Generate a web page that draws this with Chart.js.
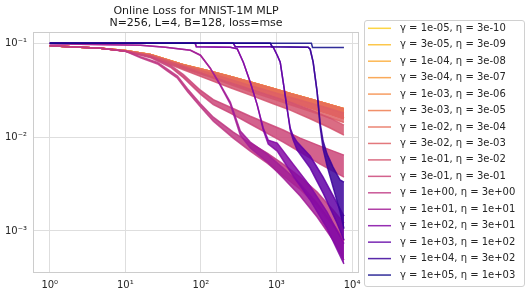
<!DOCTYPE html>
<html><head><meta charset="utf-8">
<script src="https://cdn.jsdelivr.net/npm/chart.js@4"></script>
<style>html,body{margin:0;padding:0;background:#fff;}#wrap{width:531px;height:297px;}</style>
</head><body><div id="wrap"><canvas id="c" width="531" height="297"></canvas></div>
<script>
// ---------- data ----------
const titleLines = ['Online Loss for MNIST-1M MLP', 'N=256, L=4, B=128, loss=mse'];
const gammaValues = [1e-5, 3e-5, 1e-4, 3e-4, 1e-3, 3e-3, 1e-2, 3e-2, 1e-1, 3e-1, 1, 10, 100, 1000, 1e4, 1e5];
const gammaLabels = ['1e-05','3e-05','1e-04','3e-04','1e-03','3e-03','1e-02','3e-02','1e-01','3e-01','1e+00','1e+01','1e+02','1e+03','1e+04','1e+05'];
const etaLabels = ['3e-10','3e-09','3e-08','3e-07','3e-06','3e-05','3e-04','3e-03','3e-02','3e-01','3e+00','1e+01','3e+01','1e+02','3e+02','1e+03'];

const xTickValues = [1, 10, 100, 1000, 10000];
const xTickLabels = ['10⁰', '10¹', '10²', '10³', '10⁴'];
const yTickValues = [1e-3, 1e-2, 1e-1];
const yTickLabels = ['10⁻³', '10⁻²', '10⁻¹'];

// lazy regime (gamma <= 1e-02 overlap): upper / lower edge of the noisy band
const stepsLazy = [1, 2.57, 4.71, 10, 21.5, 58.7, 133, 245, 450, 906, 1520, 2790, 5125, 7812];
const lossLazyHi = [0.0941, 0.0907, 0.0885, 0.0838, 0.0760, 0.0590, 0.0504, 0.0443, 0.0387, 0.0330, 0.0292, 0.0255, 0.0221, 0.0200];
const lossLazyLo = [0.0941, 0.0907, 0.0885, 0.0826, 0.0731, 0.0549, 0.0457, 0.0392, 0.0334, 0.0278, 0.0243, 0.0207, 0.0177, 0.0158];

const steps3em2 = [1, 2.57, 4.71, 10, 21.5, 58.7, 133, 245, 450, 906, 1520, 2790, 5125, 7812];
const loss3em2Hi = [0.0941, 0.0907, 0.0885, 0.0838, 0.0751, 0.0576, 0.0480, 0.0412, 0.0355, 0.0301, 0.0266, 0.0231, 0.0200, 0.0181];
const loss3em2Lo = [0.0941, 0.0907, 0.0885, 0.0826, 0.0722, 0.0536, 0.0435, 0.0364, 0.0306, 0.0254, 0.0221, 0.0188, 0.0160, 0.0143];

const steps1em1 = [1, 4.71, 10, 21.5, 58.7, 133, 245, 450, 906, 1520, 2790, 5125, 7812];
const loss1em1Hi = [0.0941, 0.0885, 0.0828, 0.0736, 0.0562, 0.0446, 0.0380, 0.0324, 0.0270, 0.0236, 0.0196, 0.0159, 0.0134];
const loss1em1Lo = [0.0941, 0.0885, 0.0828, 0.0718, 0.0522, 0.0404, 0.0336, 0.0280, 0.0227, 0.0194, 0.0157, 0.0125, 0.0105];

const steps3em1 = [1, 4.71, 10, 21.5, 39.6, 58.7, 98.5, 146, 245, 450, 1228, 2060, 3784, 7812];
const loss3em1Hi = [0.0941, 0.0885, 0.0822, 0.0718, 0.0583, 0.0462, 0.0316, 0.0251, 0.0208, 0.0167, 0.0119, 0.00976, 0.00802, 0.00643];
const loss3em1Lo = [0.0941, 0.0885, 0.0822, 0.0701, 0.0555, 0.0430, 0.0287, 0.0222, 0.0180, 0.0138, 0.00885, 0.00692, 0.00516, 0.00375];

const steps1e0 = [1, 4.71, 10.1, 15.9, 26.7, 36.1, 49, 66.3, 98.5, 146, 268, 450, 755, 1228, 2060, 3454, 5610, 7812];
const loss1e0Hi = [0.0941, 0.0885, 0.0822, 0.0718, 0.0625, 0.0529, 0.0446, 0.0328, 0.0227, 0.0163, 0.0113, 0.00863, 0.00676, 0.00516, 0.00375, 0.00260, 0.00167, 0.00121];
const loss1e0Lo = [0.0941, 0.0885, 0.0822, 0.0701, 0.0601, 0.0504, 0.0424, 0.0305, 0.0211, 0.0148, 0.00976, 0.00710, 0.00529, 0.00385, 0.00279, 0.00185, 0.00113, 0.000783];

const steps1e1 = [1, 15.9, 34, 72.7, 98.5, 133, 181, 245, 332, 450, 755, 1228, 2060, 3454, 5610, 7812];
const loss1e1Hi = [0.0988, 0.0952, 0.0907, 0.0842, 0.0745, 0.0542, 0.0362, 0.0236, 0.0116, 0.00885, 0.00659, 0.00468, 0.00316, 0.00198, 0.00119, 0.000802];
const loss1e1Lo = [0.0988, 0.0952, 0.0907, 0.0842, 0.0745, 0.0542, 0.0353, 0.0224, 0.0105, 0.00764, 0.00542, 0.00366, 0.00236, 0.00141, 0.000802, 0.000491];

const steps1e2 = [1, 84, 87, 245, 303, 364, 450, 557, 668, 778, 1023, 1664, 2790, 4679, 7812];
const loss1e2Hi = [0.1, 0.1, 0.0918, 0.0907, 0.0870, 0.0628, 0.0385, 0.0219, 0.0125, 0.00929, 0.00863, 0.00516, 0.00301, 0.00159, 0.000735];
const loss1e2Lo = [0.1, 0.1, 0.0918, 0.0907, 0.0870, 0.0628, 0.0385, 0.0219, 0.0119, 0.00842, 0.00710, 0.00385, 0.00214, 0.00106, 0.000446];

const steps1e3 = [1, 268, 285, 826, 906, 1023, 1121, 1228, 1387, 1520, 1664, 1879, 2790, 4142, 6339, 7812];
const loss1e3Hi = [0.1, 0.1, 0.0918, 0.0918, 0.0907, 0.0745, 0.0628, 0.0385, 0.0198, 0.0125, 0.0103, 0.00885, 0.00628, 0.00375, 0.00198, 0.00144];
const loss1e3Lo = [0.1, 0.1, 0.0918, 0.0918, 0.0907, 0.0745, 0.0628, 0.0385, 0.0198, 0.0119, 0.00929, 0.00727, 0.00468, 0.00253, 0.00121, 0.000802];

const steps1e4 = [1, 826, 879, 2626, 2790, 3057, 3454, 3784, 4142, 4679, 5610, 6950, 7812];
const loss1e4Hi = [0.1, 0.1, 0.0918, 0.0907, 0.0863, 0.0628, 0.0301, 0.0141, 0.00907, 0.00659, 0.00479, 0.00349, 0.00332];
const loss1e4Lo = [0.1, 0.1, 0.0918, 0.0907, 0.0863, 0.0628, 0.0301, 0.0128, 0.00745, 0.00491, 0.00293, 0.00159, 0.00106];

const steps1e5 = [1, 2900, 3000, 7812];
const loss1e5 = [0.1, 0.1, 0.0900, 0.0900];

const seriesSteps = [stepsLazy, stepsLazy, stepsLazy, stepsLazy, stepsLazy, stepsLazy, stepsLazy, steps3em2, steps1em1, steps3em1, steps1e0, steps1e1, steps1e2, steps1e3, steps1e4, steps1e5];
const seriesHi = [lossLazyHi, lossLazyHi, lossLazyHi, lossLazyHi, lossLazyHi, lossLazyHi, lossLazyHi, loss3em2Hi, loss1em1Hi, loss3em1Hi, loss1e0Hi, loss1e1Hi, loss1e2Hi, loss1e3Hi, loss1e4Hi, loss1e5];
const seriesLo = [lossLazyLo, lossLazyLo, lossLazyLo, lossLazyLo, lossLazyLo, lossLazyLo, lossLazyLo, loss3em2Lo, loss1em1Lo, loss3em1Lo, loss1e0Lo, loss1e1Lo, loss1e2Lo, loss1e3Lo, loss1e4Lo, null];

// ---------- colours ----------
const plasmaStops = ['#0d0887','#41049d','#6a00a8','#8f0da4','#b12a90','#cc4778','#e16462','#f2844b','#fca636','#fcce25','#f0f921'];
function hex(h){return [parseInt(h.slice(1,3),16),parseInt(h.slice(3,5),16),parseInt(h.slice(5,7),16)];}
function plasma(t){const s=Math.max(0,Math.min(1,t))*10;const i=Math.min(9,Math.floor(s));const f=s-i;const a=hex(plasmaStops[i]),b=hex(plasmaStops[i+1]);return a.map((v,k)=>Math.round(v+(b[k]-v)*f));}
function rgba(c,a){return 'rgba('+c[0]+','+c[1]+','+c[2]+','+a+')';}

const seriesColors = gammaValues.map(g => rgba(plasma(0.9*(1-(Math.log10(g)+5)/10)), 0.85));
const legendLabels = gammaLabels.map((g,i) => 'γ = ' + g + ', η = ' + etaLabels[i]);

const datasets = [];
for (let i = 0; i < gammaValues.length; i++) {
  const steps = seriesSteps[i], hi = seriesHi[i], lo = seriesLo[i];
  const order = 100 - i * 2;
  const base = {borderColor: seriesColors[i], backgroundColor: seriesColors[i], borderWidth: 1.5, pointRadius: 0, tension: 0, order: order};
  datasets.push(Object.assign({}, base, {label: legendLabels[i], data: steps.map((s,k)=>({x:s, y:hi[k]})), fill: false}));
  if (lo) datasets.push(Object.assign({}, base, {label: legendLabels[i] + ' ', data: steps.map((s,k)=>({x:s, y:lo[k]})), fill: '-1'}));
}

const FONT = 'DejaVu Sans';
const framePlugin = {
  id: 'frameAndLegend',
  afterDraw(chart) {
    const ctx = chart.ctx, a = chart.chartArea;
    ctx.save();
    ctx.strokeStyle = '#cccccc'; ctx.lineWidth = 1;
    ctx.strokeRect(Math.round(a.left) + 0.5, Math.round(a.top) + 0.5, Math.round(a.right - a.left) - 1, Math.round(a.bottom - a.top) - 1);
    // legend
    const lx = 364.5, ly = 20.5, lw = 160, lh = 266, r = 2.5;
    ctx.beginPath();
    ctx.moveTo(lx + r, ly); ctx.lineTo(lx + lw - r, ly); ctx.quadraticCurveTo(lx + lw, ly, lx + lw, ly + r);
    ctx.lineTo(lx + lw, ly + lh - r); ctx.quadraticCurveTo(lx + lw, ly + lh, lx + lw - r, ly + lh);
    ctx.lineTo(lx + r, ly + lh); ctx.quadraticCurveTo(lx, ly + lh, lx, ly + lh - r);
    ctx.lineTo(lx, ly + r); ctx.quadraticCurveTo(lx, ly, lx + r, ly); ctx.closePath();
    ctx.fillStyle = 'rgba(255,255,255,0.8)'; ctx.fill();
    ctx.strokeStyle = '#d0d0d0'; ctx.stroke();
    ctx.font = '10px "' + FONT + '"'; ctx.textBaseline = 'middle'; ctx.textAlign = 'left';
    for (let i = 0; i < legendLabels.length; i++) {
      const cy = 28.3 + i * 16.45;
      ctx.strokeStyle = seriesColors[i]; ctx.lineWidth = 1.5;
      ctx.beginPath(); ctx.moveTo(368, cy); ctx.lineTo(391, cy); ctx.stroke();
      ctx.fillStyle = '#262626';
      ctx.fillText(legendLabels[i], 400, cy);
    }
    ctx.restore();
  }
};

new Chart(document.getElementById('c'), {
  type: 'line',
  data: {datasets: datasets},
  options: {
    responsive: false, animation: false, devicePixelRatio: 1,
    layout: {padding: {left: 0, right: 172, top: 0, bottom: 0}},
    plugins: {
      legend: {display: false}, tooltip: {enabled: false},
      title: {display: true, text: titleLines, fullSize: false, color: '#1a1a1a',
        font: {family: FONT, size: 11, weight: 'normal', lineHeight: 1.1}, padding: {top: 5, bottom: 3}}
    },
    scales: {
      x: {
        type: 'logarithmic', min: 0.615, max: 12360,
        afterBuildTicks: s => { s.ticks = xTickValues.map(v => ({value: v})); },
        afterFit: s => { s.height = 24; },
        ticks: {callback: v => xTickLabels[xTickValues.indexOf(v)], color: '#262626', font: {family: FONT, size: 10}, padding: 6, maxRotation: 0, autoSkip: false},
        grid: {color: '#dedede', lineWidth: 1, drawTicks: false},
        border: {display: false}
      },
      y: {
        type: 'logarithmic', min: 3.57e-4, max: 0.131,
        afterBuildTicks: s => { s.ticks = yTickValues.map(v => ({value: v})); },
        afterFit: s => { s.width = 33; },
        ticks: {callback: v => yTickLabels[yTickValues.indexOf(v)], color: '#262626', font: {family: FONT, size: 10}, padding: 6, autoSkip: false},
        grid: {color: '#dedede', lineWidth: 1, drawTicks: false},
        border: {display: false}
      }
    }
  },
  plugins: [framePlugin]
});
</script></body></html>
